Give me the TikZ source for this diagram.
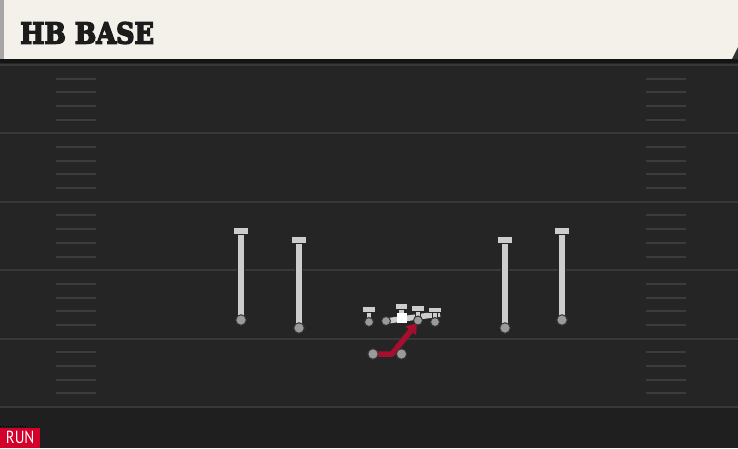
\documentclass[tikz,border=0pt]{standalone}
\usepackage{fontspec}
\newfontfamily\titlefont{DejaVu Serif}[FakeBold=5]
\newfontfamily\labelfont{PT Sans}
\usetikzlibrary{arrows.meta}
\definecolor{cream}{HTML}{F4F1EA}
\definecolor{field}{HTML}{252525}
\definecolor{fieldlow}{HTML}{1F1F1F}
\definecolor{yardline}{HTML}{383838}
\definecolor{hashc}{HTML}{3C3C3C}
\definecolor{routegray}{HTML}{CDCDCD}
\definecolor{dotgray}{HTML}{9A9A9A}
\definecolor{runred}{HTML}{A50F2D}
\definecolor{tagred}{HTML}{D3002C}
\definecolor{titleink}{HTML}{1C1C1C}
\pgfdeclarelayer{background}
\pgfdeclarelayer{routes}
\pgfsetlayers{background,routes,main}
\begin{document}
\begin{tikzpicture}[x=1pt,y=-1pt,
  player/.style={circle,fill=dotgray,draw=black!80,line width=1pt,inner sep=0pt,minimum size=10.5pt},
  lineman/.style={player,minimum size=9pt},
  blockbar/.style={rectangle,fill=routegray,draw=black!85,line width=1.2pt,inner sep=0pt,minimum width=16pt,minimum height=6.5pt},
  shortbar/.style={blockbar,minimum width=13pt,minimum height=5.5pt},
  snapbox/.style={rectangle,fill=white,inner sep=0pt,minimum size=10pt},
  route/.style={draw=routegray,line width=5.6pt,preaction={draw=black!85,line width=8pt}},
  block/.style={draw=routegray,line width=4.6pt,preaction={draw=black!85,line width=6.8pt}},
  runroute/.style={draw=runred,line width=5.5pt,line join=round,-{Triangle[length=10pt,width=13pt]}},
  yard/.style={draw=yardline,line width=2pt},
  hashmark/.style={draw=hashc,line width=2pt}]
\useasboundingbox (0,0) rectangle (738,448);
\begin{pgfonlayer}{background}
  % field
  \fill[field] (0,0) rectangle (738,448);
  \fill[fieldlow] (0,408) rectangle (738,448);
  % header
  \fill[cream] (0,0) rectangle (738,59);
  \fill[black!35] (0,0) rectangle (4,59);
  \fill[black!92] (0,59) rectangle (738,63);
  \fill[black!80] (732,59) -- (738,47) -- (738,59) -- cycle;
  % yard lines
  \foreach \yy in {65,133.4,201.8,270.2,338.6,407}
    \draw[yard] (0,\yy) -- (738,\yy);
  % hash marks
  \foreach \k in {0,...,4}
    \foreach \j in {1,...,4} {
      \pgfmathsetmacro\hy{65+68.4*\k+13.68*\j}
      \draw[hashmark] (56,\hy) -- (96,\hy);
      \draw[hashmark] (646,\hy) -- (686,\hy);
    }
  \draw[black,line width=0.8pt,dotted] (0,426) -- (28,426);
\end{pgfonlayer}

% title and tag
\node[anchor=west,text=titleink,inner sep=0pt] (title) at (20,33)
  {\scalebox{0.88}[1]{\fontsize{29}{31}\selectfont\titlefont\bfseries HB BASE}};
\node[anchor=south west,fill=tagred,text=white,inner sep=0pt,minimum width=40pt,minimum height=20pt] (tag) at (0,448)
  {\scalebox{0.85}[1]{\fontsize{17.5}{19}\selectfont\labelfont RUN}};

% receivers
\node[player] (w1) at (241,320) {};
\node[blockbar] (w1b) at (241,231) {};
\node[player] (w2) at (299,328) {};
\node[blockbar] (w2b) at (299,240) {};
\node[player] (w3) at (505,328) {};
\node[blockbar] (w3b) at (505,240) {};
\node[player] (w4) at (562,320) {};
\node[blockbar] (w4b) at (562,231) {};

% offensive line
\node[lineman] (ol1) at (369,322) {};
\node[shortbar] (ol1b) at (369,309.5) {};
\node[lineman] (ol2) at (386,321) {};
\coordinate (ol2e) at (440,314);
\node[snapbox] (ctr) at (401.5,318) {};
\node[shortbar] (ctrb) at (401.5,306.5) {};
\node[lineman] (ol4) at (418,320.5) {};
\node[shortbar] (ol4b) at (418,308.5) {};
\node[lineman] (ol5) at (435,322) {};
\node[shortbar] (ol5b) at (435,310) {};

% backs
\node[player] (hb) at (373,354) {};
\node[player] (qb) at (401.5,354) {};
\coordinate (hbturn) at (392,354);
\coordinate (hbend) at (417,323);

\begin{pgfonlayer}{routes}
  \draw[route] (w1.center) -- (w1b.center);
  \draw[route] (w2.center) -- (w2b.center);
  \draw[route] (w3.center) -- (w3b.center);
  \draw[route] (w4.center) -- (w4b.center);
  \draw[block] (ol1.center) -- (ol1b.center);
  \draw[route] (ol2.center) -- (ol2e);
  \draw[block] (ctr.center) -- (ctrb.center);
  \draw[block] (ol4.center) -- (ol4b.center);
  \draw[block] (ol5.center) -- (ol5b.center);
  \draw[runroute] (hb.center) -- (hbturn) -- (hbend);
\end{pgfonlayer}
\end{tikzpicture}
\end{document}
